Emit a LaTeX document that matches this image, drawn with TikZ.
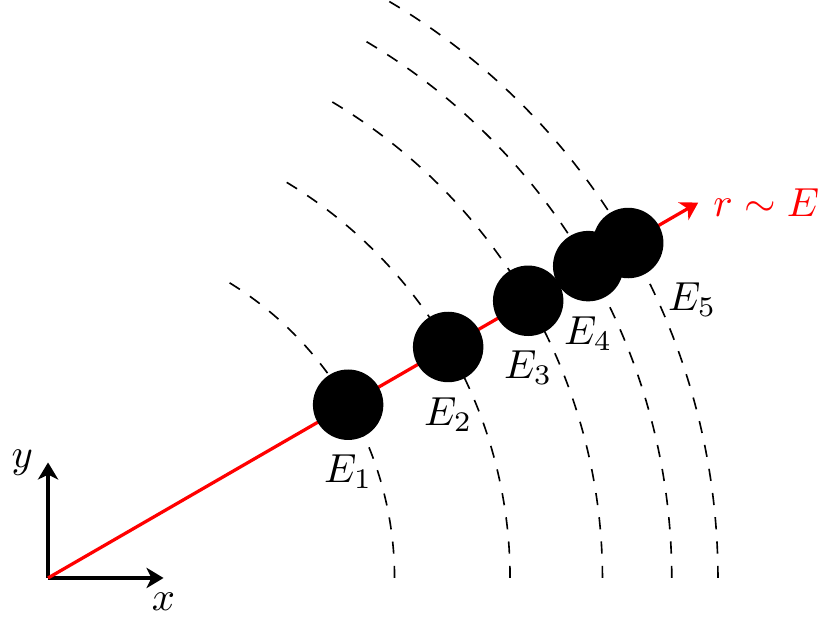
\documentclass[tikz,border=0pt]{standalone}
\usetikzlibrary{arrows.meta}
\begin{document}
\begin{tikzpicture}[
  axis/.style={thick,-{Stealth[length=4.2pt,width=5pt,inset=1.2pt]}},
  arcline/.style={dashed},
  ball/.style={circle,fill=black,minimum size=6.1mm,inner sep=0pt}
]
\useasboundingbox (-0.416,-0.398) rectangle (6.77,5.004);
\coordinate (O) at (0,0);
\foreach \r in {3,4,4.8,5.4,5.8}{
  \draw[arcline] (\r,0) arc (0:60:\r);
}
\coordinate (X) at (1,0);
\coordinate (Y) at (0,1);
\coordinate (R) at (30:6.5);
\draw[axis] (O) -- (X) node[below] {$x$};
\draw[axis] (O) -- (Y) node[left] {$y$};
\draw[axis,red] (O) -- (R) node[right] {$r\sim E$};
\node[ball,label=below:$E_1$] (e1) at (30:3) {};
\node[ball,label=below:$E_2$] (e2) at (30:4) {};
\node[ball,label=below:$E_3$] (e3) at (30:4.8) {};
\node[ball,label=below:$E_4$] (e4) at (30:5.4) {};
\node[ball,label=below right:$E_5$] (e5) at (30:5.8) {};
\end{tikzpicture}
\end{document}
